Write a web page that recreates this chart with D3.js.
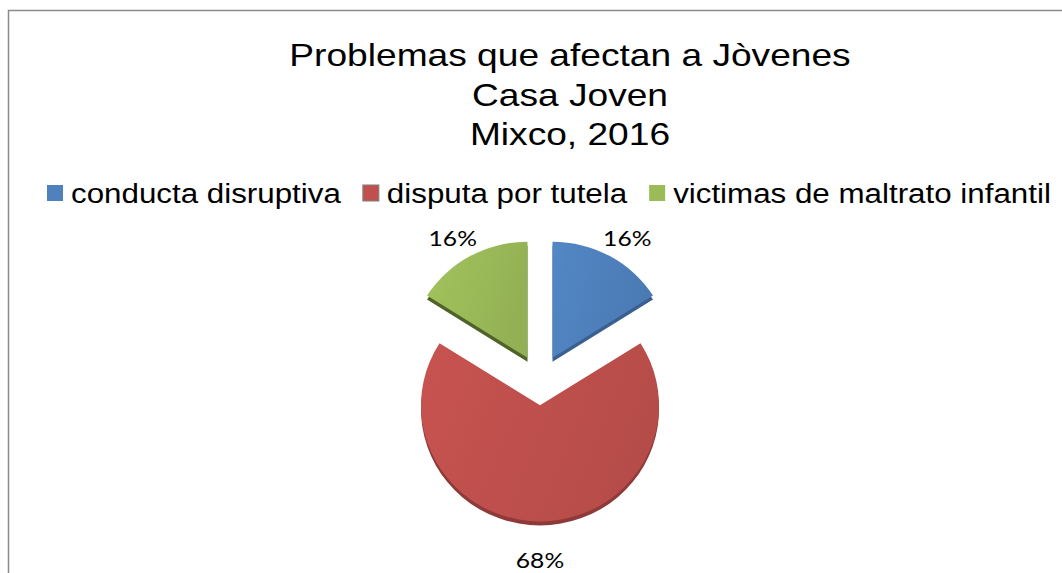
<!DOCTYPE html>
<html><head><meta charset="utf-8">
<script src="https://cdn.jsdelivr.net/npm/d3@7"></script>
<style>html,body{margin:0;padding:0;background:#fff;}svg{display:block;}</style>
</head><body>
<svg id="chart" width="1062" height="573"></svg>
<script>
const titleLines = ["Problemas que afectan a Jòvenes", "Casa Joven", "Mixco, 2016"];
const categories = ["conducta disruptiva", "disputa por tutela", "victimas de maltrato infantil"];
const values = [16, 68, 16];
const colors = ["#4F81BD", "#C0504D", "#9BBB59"];
const sideColors = ["#3A6090", "#8E3A38", "#4F6228"];

const SX = 1.16; // horizontal stretch of the reference rendering
const svg = d3.select("#chart");

// chart border
svg.append("rect").attr("x", 8.5).attr("y", 10.5).attr("width", 1200).attr("height", 700)
  .attr("fill", "#fff").attr("stroke", "#8a8a8a").attr("stroke-width", 1.5);

function stretch(sel, f) {
  let out = 0;
  sel.each(function () {
    const w = this.getComputedTextLength();
    out = w * f;
    d3.select(this).attr("textLength", out).attr("lengthAdjust", "spacingAndGlyphs");
  });
  return out;
}

// title
const title = svg.append("g");
titleLines.forEach((t, i) => {
  const tt = title.append("text").attr("x", 570).attr("y", 66 + i * 39.5)
    .attr("text-anchor", "middle")
    .style("font-family", "Liberation Sans, Arial, sans-serif").style("font-size", "32px")
    .attr("fill", "#000").text(t);
  stretch(tt, SX);
});

// legend
const legend = svg.append("g");
let lx = 47;
categories.forEach((c, i) => {
  legend.append("rect").attr("x", lx).attr("y", 185).attr("width", 16).attr("height", 16)
    .attr("fill", colors[i]).attr("stroke", i === 1 ? "#7f7f7f" : "none").attr("stroke-width", 1);
  const t = legend.append("text").attr("x", lx + 24).attr("y", 203)
    .style("font-family", "Liberation Sans, Arial, sans-serif").style("font-size", "27px")
    .attr("fill", "#000").text(c);
  const w = stretch(t, SX);
  lx += 24 + w + 22;
});

// pie
const cx = 540, cy = 380, r = 119, k = 0.975, explode = 26, depth = 4;
const pie = d3.pie().sort(null).value(d => d);
const arcs = pie(values);
const arc = d3.arc().innerRadius(0).outerRadius(r);

const defs = svg.append("defs");
colors.forEach((c, i) => {
  const g = defs.append("linearGradient").attr("id", "g" + i)
    .attr("x1", "0%").attr("x2", "100%").attr("y1", "0%").attr("y2", "30%");
  g.append("stop").attr("offset", "0%").attr("stop-color", d3.color(c).brighter(0.12));
  g.append("stop").attr("offset", "100%").attr("stop-color", d3.color(c).darker(0.15));
});

const pieG = svg.append("g");
function offset(d) {
  const a = (d.startAngle + d.endAngle) / 2;
  return [cx + explode * Math.sin(a), cy - explode * Math.cos(a) * k];
}
// sides
arcs.forEach((d, i) => {
  const [ox, oy] = offset(d);
  pieG.append("path").attr("d", arc(d))
    .attr("transform", `translate(${ox},${oy + depth}) scale(1,${k})`)
    .attr("fill", sideColors[i]);
});
// tops
arcs.forEach((d, i) => {
  const [ox, oy] = offset(d);
  pieG.append("path").attr("d", arc(d))
    .attr("transform", `translate(${ox},${oy}) scale(1,${k})`)
    .attr("fill", `url(#g${i})`);
});

// labels
const total = d3.sum(values);
arcs.forEach((d, i) => {
  const a = (d.startAngle + d.endAngle) / 2;
  const down = Math.max(0, -Math.cos(a));
  const dist = explode + r + 12 + 20 * down;
  const ax = cx + dist * Math.sin(a), ay = cy - dist * Math.cos(a) * k;
  const t = svg.append("text")
    .style("font-family", "Lato, Open Sans, sans-serif").style("font-size", "22px")
    .attr("fill", "#000").attr("text-anchor", "middle")
    .text(Math.round(values[i] / total * 100) + "%");
  const w = stretch(t, 1.12);
  const tx = ax + (w / 2) * Math.sin(a);
  const ty = ay - 8 * Math.cos(a) + 7.5;
  t.attr("x", tx).attr("y", ty);
});
</script>
</body></html>
